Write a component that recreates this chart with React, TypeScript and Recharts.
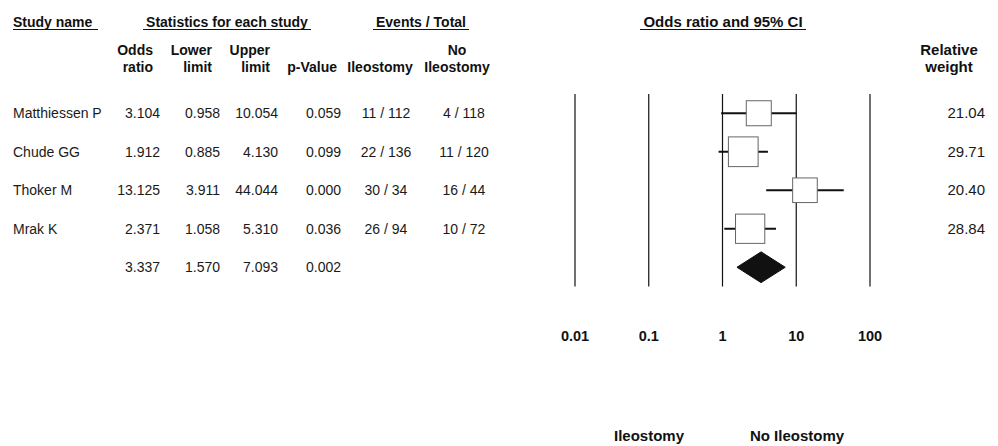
import React from "react";
import {
	ComposedChart,
	XAxis,
	YAxis,
	Scatter,
	ErrorBar,
	Area,
	ReferenceLine,
} from "recharts";

const studies = ["Matthiessen P", "Chude GG", "Thoker M", "Mrak K"];
const oddsRatio = [3.104, 1.912, 13.125, 2.371];
const lowerLimit = [0.958, 0.885, 3.911, 1.058];
const upperLimit = [10.054, 4.13, 44.044, 5.31];
const pValue = [0.059, 0.099, 0.0, 0.036];
const ileostomyEvents = ["11 / 112", "22 / 136", "30 / 34", "26 / 94"];
const noIleostomyEvents = ["4 / 118", "11 / 120", "16 / 44", "10 / 72"];
const relativeWeight = [21.04, 29.71, 20.4, 28.84];

const pooledOR = 3.337;
const pooledLower = 1.57;
const pooledUpper = 7.093;
const pooledP = 0.002;

const xTicks = [0.01, 0.1, 1, 10, 100];
const rowTicks = [1, 2, 3, 4, 5];

const studyData = studies.map((name, i) => ({
	x: oddsRatio[i],
	y: i + 1,
	err: [oddsRatio[i] - lowerLimit[i], upperLimit[i] - oddsRatio[i]],
	weight: relativeWeight[i],
}));

// diamond for the pooled estimate, drawn as a band
const diamondData = [
	{ x: pooledLower, band: [5, 5] },
	{ x: pooledOR, band: [4.6, 5.4] },
	{ x: pooledUpper, band: [5, 5] },
];

const FONT = "'Liberation Sans', Arial, sans-serif";
const FS = 14;
const TXT = "#1a1a1a";

// column positions of the table on the left
const COL = {
	name: 13,
	or: 160,
	lower: 220,
	upper: 278,
	p: 341,
	ileo: 386,
	noIleo: 464,
	weight: 985,
};

const Box = (props: any) => {
	const { cx, cy, payload } = props;
	const s = 5.45 * Math.sqrt(payload.weight);
	return (
		<rect
			x={cx - s / 2}
			y={cy - s / 2}
			width={s}
			height={s}
			fill="#fff"
			stroke="#666"
			strokeWidth={1}
		/>
	);
};

const RowTick = (props: any) => {
	const { y, payload } = props;
	const row = payload.value - 1;
	const by = y + 5;
	const cell = (x: number, t: string, anchor: string, fs = FS) => (
		<text
			x={x}
			y={by}
			textAnchor={anchor as any}
			fontSize={fs}
			fill={TXT}
			fontFamily={FONT}
		>
			{t}
		</text>
	);
	if (row === 4) {
		return (
			<g>
				{cell(COL.or, pooledOR.toFixed(3), "end")}
				{cell(COL.lower, pooledLower.toFixed(3), "end")}
				{cell(COL.upper, pooledUpper.toFixed(3), "end")}
				{cell(COL.p, pooledP.toFixed(3), "end")}
			</g>
		);
	}
	return (
		<g>
			{cell(COL.name, studies[row], "start")}
			{cell(COL.or, oddsRatio[row].toFixed(3), "end")}
			{cell(COL.lower, lowerLimit[row].toFixed(3), "end")}
			{cell(COL.upper, upperLimit[row].toFixed(3), "end")}
			{cell(COL.p, pValue[row].toFixed(3), "end")}
			{cell(COL.ileo, ileostomyEvents[row], "middle")}
			{cell(COL.noIleo, noIleostomyEvents[row], "middle")}
			{cell(COL.weight, relativeWeight[row].toFixed(2), "end", 15)}
		</g>
	);
};

const XTick = (props: any) => {
	const { x, payload } = props;
	return (
		<text
			x={x}
			y={340.5}
			textAnchor="middle"
			fontSize={14.5}
			fontWeight="bold"
			fill="#111"
			fontFamily={FONT}
		>
			{payload.value}
		</text>
	);
};

const H = (props: { x: number; y: number; anchor?: string; fs?: number; children: string }) => (
	<text
		x={props.x}
		y={props.y}
		textAnchor={(props.anchor || "middle") as any}
		fontSize={props.fs || FS}
		fontWeight="bold"
		fill="#111"
		fontFamily={FONT}
	>
		{props.children}
	</text>
);

export default function App() {
	return (
		<div style={{ position: "absolute", left: 0, top: 0, background: "#fff" }}>
			<ComposedChart
				width={998}
				height={446}
				margin={{ top: 94, right: 128, left: 0, bottom: 99.5 }}
			>
				<XAxis
					dataKey="x"
					type="number"
					scale="log"
					domain={[0.01, 100]}
					ticks={xTicks}
					interval={0}
					height={60}
					axisLine={false}
					tickLine={false}
					tick={<XTick />}
					allowDataOverflow
				/>
				<YAxis
					dataKey="y"
					type="number"
					domain={[0.5, 5.5]}
					ticks={rowTicks}
					interval={0}
					reversed
					width={575}
					axisLine={false}
					tickLine={false}
					tick={<RowTick />}
				/>
				{xTicks.map((t) => (
					<ReferenceLine key={t} x={t} stroke="#111" strokeWidth={1.2} />
				))}
				<Area
					data={diamondData}
					dataKey="band"
					type="linear"
					stroke="#111"
					fill="#111"
					fillOpacity={1}
					dot={false}
					activeDot={false}
					isAnimationActive={false}
				/>
				<Scatter data={studyData} shape={<Box />} isAnimationActive={false}>
					<ErrorBar
						dataKey="err"
						direction="x"
						width={0}
						stroke="#111"
						strokeWidth={2}
						isAnimationActive={false}
					/>
				</Scatter>

				{/* column headers */}
				<H x={13} y={26.5} anchor="start">Study name</H>
				<line x1={13} x2={98} y1={29.5} y2={29.5} stroke="#111" strokeWidth={1.2} />
				<H x={227} y={26.5}>Statistics for each study</H>
				<line x1={143} x2={311} y1={29.5} y2={29.5} stroke="#111" strokeWidth={1.2} />
				<H x={421} y={26.5}>Events / Total</H>
				<line x1={373} x2={469} y1={29.5} y2={29.5} stroke="#111" strokeWidth={1.2} />
				<H x={723} y={26.5} fs={15}>Odds ratio and 95% CI</H>
				<line x1={640} x2={806} y1={29.5} y2={29.5} stroke="#111" strokeWidth={1.2} />

				<H x={153} y={54.5} anchor="end">Odds</H>
				<H x={153} y={71.5} anchor="end">ratio</H>
				<H x={212} y={54.5} anchor="end">Lower</H>
				<H x={212} y={71.5} anchor="end">limit</H>
				<H x={270} y={54.5} anchor="end">Upper</H>
				<H x={270} y={71.5} anchor="end">limit</H>
				<H x={337} y={71.5} anchor="end">p-Value</H>
				<H x={380} y={71.5}>Ileostomy</H>
				<H x={457} y={54.5}>No</H>
				<H x={457} y={71.5}>Ileostomy</H>
				<H x={949} y={54.5} fs={15}>Relative</H>
				<H x={949} y={71.5} fs={15}>weight</H>

				{/* favours labels */}
				<H x={649} y={441} fs={15}>Ileostomy</H>
				<H x={797} y={441} fs={15}>No Ileostomy</H>
			</ComposedChart>
		</div>
	);
}
